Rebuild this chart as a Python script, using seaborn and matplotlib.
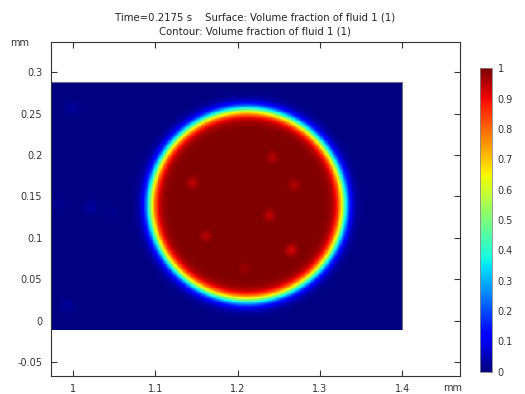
import numpy as np
import matplotlib
matplotlib.use("Agg")
import matplotlib.pyplot as plt
import seaborn as sns

# ---- data ----
time_label = "Time=0.2175 s"
title_surface = "Surface: Volume fraction of fluid 1 (1)"
title_contour = "Contour: Volume fraction of fluid 1 (1)"

domain_x = [0.96, 1.40]          # mm
domain_y = [-0.0104, 0.288]      # mm
drop_center = [1.2115, 0.1397]   # mm
drop_semi_axes = [0.1175, 0.1150]  # mm (0.5 level)
interface_eps = 0.0044           # mm

# faint disturbances inside the drop (x, y, amplitude)
inner_x = [1.2422, 1.1451, 1.2689, 1.2386, 1.1614, 1.2649, 1.2083]
inner_y = [0.1969, 0.1667, 0.1639, 0.1273, 0.1023, 0.0854, 0.0633]
inner_a = [-0.045, -0.055, -0.045, -0.055, -0.045, -0.075, -0.025]
# faint disturbances outside the drop
outer_x = [0.9995, 1.0218, 0.993, 1.047, 0.982]
outer_y = [0.257, 0.1365, 0.019, 0.132, 0.140]
outer_a = [0.025, 0.03, 0.025, 0.015, 0.015]

xticks = [1.0, 1.1, 1.2, 1.3, 1.4]
xticklabels = ["1", "1.1", "1.2", "1.3", "1.4"]
yticks = [-0.05, 0.0, 0.05, 0.1, 0.15, 0.2, 0.25, 0.3]
yticklabels = ["-0.05", "0", "0.05", "0.1", "0.15", "0.2", "0.25", "0.3"]
cbar_ticks = [0, 0.1, 0.2, 0.3, 0.4, 0.5, 0.6, 0.7, 0.8, 0.9, 1.0]
cbar_labels = ["0", "0.1", "0.2", "0.3", "0.4", "0.5", "0.6", "0.7", "0.8", "0.9", "1"]
xlim = [0.973, 1.470]
ylim = [-0.0668, 0.3366]

# ---- field ----
nx, ny = 440, 300
xs = np.linspace(domain_x[0], domain_x[1], nx)
ys = np.linspace(domain_y[0], domain_y[1], ny)
X, Y = np.meshgrid(xs, ys)
rn = np.sqrt(((X - drop_center[0]) / drop_semi_axes[0]) ** 2 +
             ((Y - drop_center[1]) / drop_semi_axes[1]) ** 2)
d = (rn - 1.0) * np.mean(drop_semi_axes)
phi = 0.5 * (1 - np.tanh(d / (2 * interface_eps)))
sig = 0.0048
for x0, y0, a in zip(inner_x, inner_y, inner_a):
    phi += a * np.exp(-((X - x0) ** 2 + (Y - y0) ** 2) / (2 * sig ** 2))
for x0, y0, a in zip(outer_x, outer_y, outer_a):
    phi += a * np.exp(-((X - x0) ** 2 + (Y - y0) ** 2) / (2 * (1.3 * sig) ** 2))
phi = np.clip(phi, 0, 1)

# ---- plot ----
sns.set_theme(style="ticks")
plt.rcParams["font.family"] = ["DejaVu Sans"]
fig = plt.figure(figsize=(5.25, 3.94), dpi=100)
ax = fig.add_axes([0.0964, 0.0457, 0.780, 0.8477])
im = ax.pcolormesh(xs, ys, phi, cmap="jet", vmin=0, vmax=1, shading="auto",
                   rasterized=True)
ax.plot([domain_x[0], domain_x[1], domain_x[1]],
        [domain_y[1], domain_y[1], domain_y[0]], color="#6a6f80", lw=0.8)
ax.set_xlim(xlim)
ax.set_ylim(ylim)
ax.set_xticks(xticks)
ax.set_xticklabels(xticklabels)
ax.set_yticks(yticks)
ax.set_yticklabels(yticklabels)
ax.tick_params(direction="in", length=4, width=0.8, top=True, right=True,
               labelsize=7, colors="#333333", pad=6)
for s in ax.spines.values():
    s.set_color("#333333")
    s.set_linewidth(0.8)

fig.text(0.4862, 1 - 18 / 394, time_label + "    " + title_surface,
         ha="center", va="center", fontsize=7.3, color="#222222")
fig.text(0.4862, 1 - 32 / 394, title_contour,
         ha="center", va="center", fontsize=7.3, color="#222222")
fig.text(20 / 525, 1 - 43 / 394, "mm", ha="center", va="center",
         fontsize=7, color="#333333")
fig.text(453 / 525, 1 - 388 / 394, "mm", ha="center", va="center",
         fontsize=7, color="#333333")

cax = fig.add_axes([0.9143, 0.0566, 0.0234, 0.770])
cb = fig.colorbar(im, cax=cax, ticks=cbar_ticks)
cb.ax.set_yticklabels(cbar_labels)
cb.ax.tick_params(direction="in", length=3, width=0.6, labelsize=7,
                  colors="#333333", pad=4)
cb.outline.set_edgecolor("#888888")
cb.outline.set_linewidth(0.6)

fig.savefig("out.png", dpi=100)
